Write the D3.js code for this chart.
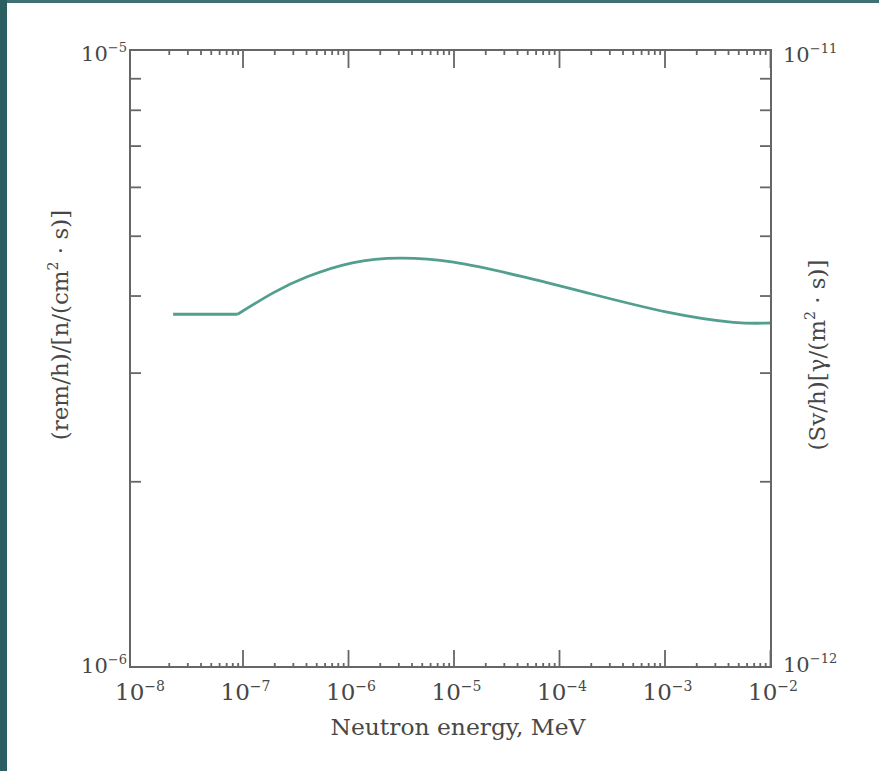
<!DOCTYPE html>
<html>
<head>
<meta charset="utf-8">
<script src="https://cdn.jsdelivr.net/npm/d3@7"></script>
<style>
  body { margin: 0; background: #fff; }
  svg text { font-family: "DejaVu Serif", "Liberation Serif", serif; fill: #474747; }
</style>
</head>
<body>
<svg id="chart" width="879" height="771"></svg>
<script>
// neutron energy (MeV) and dose conversion (rem/h per n/(cm2 s))
const energy = [2.2e-8, 9e-8, 1.95e-7, 4.1e-7, 1.1e-6, 3.1e-6, 1e-5, 4.3e-5, 1.85e-4, 1.06e-3, 4.5e-3, 1e-2];
const dose = [3.73e-6, 3.73e-6, 4.04e-6, 4.29e-6, 4.52e-6, 4.60e-6, 4.53e-6, 4.30e-6, 4.04e-6, 3.76e-6, 3.62e-6, 3.61e-6];
const xMajor = [-8, -7, -6, -5, -4, -3, -2];   // exponents
const yLeftExp = [-6, -5];
const yRightExp = [-12, -11];

const svg = d3.select("#chart");
// page border strips
svg.append("rect").attr("x", 0).attr("y", 0).attr("width", 879).attr("height", 3).attr("fill", "#3d7174");
svg.append("rect").attr("x", 0).attr("y", 0).attr("width", 7).attr("height", 771).attr("fill", "#2b6063");

const pLeft = 130, pRight = 771, pTop = 50, pBottom = 667;
const x = d3.scaleLog().domain([1e-8, 1e-2]).range([137, 770]);
const y = d3.scaleLog().domain([1e-6, 1e-5]).range([pBottom, pTop]);
const y2 = d3.scaleLog().domain([1e-12, 1e-11]).range([pBottom, pTop]);

// minor ticks
let xMinor = [];
for (let e = -8; e < -2; e++) for (let k = 2; k <= 9; k++) xMinor.push(k * Math.pow(10, e));
const yMinor = d3.range(2, 10).map(k => k * 1e-6);
const yMinor2 = d3.range(2, 10).map(k => k * 1e-12);
const xMajorVals = xMajor.slice(1).map(e => Math.pow(10, e));

function styleAxis(g) {
  g.select(".domain").remove();
  g.selectAll(".tick line").attr("stroke", "#666").attr("stroke-width", 1.8);
}

// bottom axis
svg.append("g").attr("transform", `translate(0,${pBottom})`)
  .call(d3.axisBottom(x).tickValues(xMinor).tickSize(-4).tickFormat("")).call(styleAxis);
svg.append("g").attr("transform", `translate(0,${pBottom})`)
  .call(d3.axisBottom(x).tickValues(xMajorVals).tickSize(-17).tickFormat("")).call(styleAxis);
// top axis
svg.append("g").attr("transform", `translate(0,${pTop})`)
  .call(d3.axisTop(x).tickValues(xMinor).tickSize(-5).tickFormat("")).call(styleAxis);
svg.append("g").attr("transform", `translate(0,${pTop})`)
  .call(d3.axisTop(x).tickValues(xMajorVals).tickSize(-18).tickFormat("")).call(styleAxis);
// left / right
svg.append("g").attr("transform", `translate(${pLeft},0)`)
  .call(d3.axisLeft(y).tickValues(yMinor).tickSize(-11).tickFormat("")).call(styleAxis);
svg.append("g").attr("transform", `translate(${pRight},0)`)
  .call(d3.axisRight(y2).tickValues(yMinor2).tickSize(-11).tickFormat("")).call(styleAxis);

// frame
svg.append("rect").attr("x", pLeft).attr("y", pTop).attr("width", pRight - pLeft).attr("height", pBottom - pTop)
  .attr("fill", "none").attr("stroke", "#666").attr("stroke-width", 2);

function powLabel(sel, exp, sup) {
  sel.append("tspan").text("10");
  sel.append("tspan").attr("font-size", sup).attr("dy", -9).text("\u2212" + Math.abs(exp));
}

// x tick labels
xMajor.forEach(e => {
  const t = svg.append("text").attr("x", x(Math.pow(10, e)) + 3).attr("y", 700)
    .attr("text-anchor", "middle").attr("font-size", 23);
  powLabel(t, e, 14);
});
// left y labels
yLeftExp.forEach(e => {
  const t = svg.append("text").attr("x", 127).attr("y", y(Math.pow(10, e)) + (e === -6 ? 6 : 11))
    .attr("text-anchor", "end").attr("font-size", 21);
  powLabel(t, e, 13);
});
// right y labels
yRightExp.forEach(e => {
  const t = svg.append("text").attr("x", 783).attr("y", y2(Math.pow(10, e)) + (e === -12 ? 5 : 12))
    .attr("font-size", 21);
  powLabel(t, e, 13);
});

// axis titles
svg.append("text").attr("x", 458).attr("y", 735).attr("text-anchor", "middle")
  .attr("font-size", 22).attr("textLength", 255).attr("lengthAdjust", "spacingAndGlyphs")
  .text("Neutron energy, MeV");

const lt = svg.append("text").attr("transform", "translate(68,325) rotate(-90)")
  .attr("text-anchor", "middle").attr("font-size", 23);
lt.append("tspan").text("(rem/h)/[n/(cm");
lt.append("tspan").attr("font-size", 14).attr("dy", -10).text("2");
lt.append("tspan").attr("dy", 10).text(" \u00b7 s)]");

const rt = svg.append("text").attr("transform", "translate(825,355) rotate(-90)")
  .attr("text-anchor", "middle").attr("font-size", 23);
rt.append("tspan").text("(Sv/h)[\u03b3/(m");
rt.append("tspan").attr("font-size", 14).attr("dy", -10).text("2");
rt.append("tspan").attr("dy", 10).text(" \u00b7 s)]");

// curve
const pts = energy.map((e, i) => [e, dose[i]]);
svg.append("path").datum(pts.slice(0, 2))
  .attr("d", d3.line().x(d => x(d[0])).y(d => y(d[1])))
  .attr("fill", "none").attr("stroke", "#529f8f").attr("stroke-width", 2.8);
svg.append("path").datum(pts.slice(1))
  .attr("d", d3.line().x(d => x(d[0])).y(d => y(d[1])).curve(d3.curveNatural))
  .attr("fill", "none").attr("stroke", "#529f8f").attr("stroke-width", 2.8);
</script>
</body>
</html>
